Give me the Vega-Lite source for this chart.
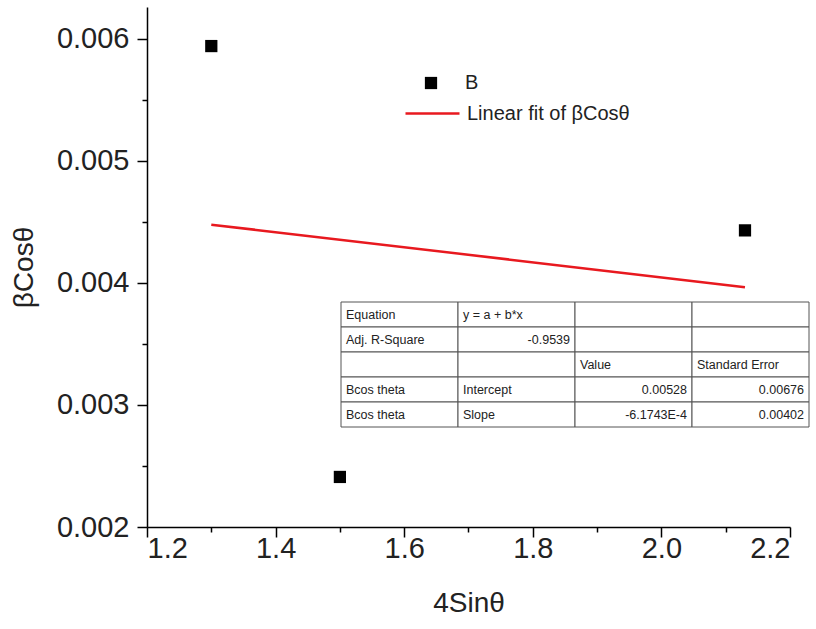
{
  "$schema": "https://vega.github.io/schema/vega-lite/v6.json",
  "width": 643,
  "height": 520,
  "autosize": "none",
  "padding": {"left": 147, "top": 7, "right": 26, "bottom": 102},
  "background": "white",
  "config": {"font": "Liberation Sans", "view": {"stroke": null}},
  "datasets": {
    "points": [
      {"x": 1.3, "y": 0.00594, "set": "B"},
      {"x": 1.5, "y": 0.00241, "set": "B"},
      {"x": 2.13, "y": 0.00443, "set": "B"}
    ],
    "fit": [
      {"x": 1.3, "y": 0.004477, "fit": "Linear fit of βCosθ"},
      {"x": 2.13, "y": 0.003965, "fit": "Linear fit of βCosθ"}
    ],
    "table": [
      {"row": 0, "col": 0, "text": "Equation"},
      {"row": 0, "col": 1, "text": "y = a + b*x"},
      {"row": 0, "col": 2, "text": ""},
      {"row": 0, "col": 3, "text": ""},
      {"row": 1, "col": 0, "text": "Adj. R-Square"},
      {"row": 1, "col": 1, "text": "-0.9539"},
      {"row": 1, "col": 2, "text": ""},
      {"row": 1, "col": 3, "text": ""},
      {"row": 2, "col": 0, "text": ""},
      {"row": 2, "col": 1, "text": ""},
      {"row": 2, "col": 2, "text": "Value"},
      {"row": 2, "col": 3, "text": "Standard Error"},
      {"row": 3, "col": 0, "text": "Bcos theta"},
      {"row": 3, "col": 1, "text": "Intercept"},
      {"row": 3, "col": 2, "text": "0.00528"},
      {"row": 3, "col": 3, "text": "0.00676"},
      {"row": 4, "col": 0, "text": "Bcos theta"},
      {"row": 4, "col": 1, "text": "Slope"},
      {"row": 4, "col": 2, "text": "-6.1743E-4"},
      {"row": 4, "col": 3, "text": "0.00402"}
    ]
  },
  "layer": [
    {
      "encoding": {
        "x": {
          "field": "x", "type": "quantitative",
          "scale": {"domain": [1.2, 2.2], "nice": false, "zero": false},
          "axis": {
            "title": "4Sinθ",
            "values": [1.2, 1.3, 1.4, 1.5, 1.6, 1.7, 1.8, 1.9, 2.0, 2.1, 2.2],
            "labelExpr": "abs(datum.value*5 - round(datum.value*5)) < 1e-6 ? format(datum.value, '.1f') : ''",
            "tickSize": {"condition": {"test": "abs(datum.value*5 - round(datum.value*5)) < 1e-6", "value": 10}, "value": 5},
            "grid": false,
            "domainColor": "black", "domainWidth": 1.5,
            "tickColor": "black", "tickWidth": 1.5,
            "labelFontSize": 29, "labelColor": "#222", "labelPadding": -3,
            "titleFontSize": 28, "titleFontWeight": "normal", "titleColor": "#222",
            "titlePadding": 26, "labelOverlap": false
          }
        },
        "y": {
          "field": "y", "type": "quantitative",
          "scale": {"domain": [0.002, 0.00626], "nice": false, "zero": false},
          "axis": {
            "title": "βCosθ",
            "values": [0.002, 0.0025, 0.003, 0.0035, 0.004, 0.0045, 0.005, 0.0055, 0.006],
            "labelExpr": "abs(datum.value*1000 - round(datum.value*1000)) < 1e-6 ? format(datum.value, '.3f') : ''",
            "tickSize": {"condition": {"test": "abs(datum.value*1000 - round(datum.value*1000)) < 1e-6", "value": 10}, "value": 5},
            "grid": false,
            "domainColor": "black", "domainWidth": 1.5,
            "tickColor": "black", "tickWidth": 1.5,
            "labelFontSize": 29, "labelColor": "#222", "labelPadding": 8,
            "titleFontSize": 28, "titleFontWeight": "normal", "titleColor": "#222",
            "titlePadding": 18, "labelOverlap": false
          }
        }
      },
      "layer": [
        {
          "data": {"name": "points"},
          "mark": {"type": "point", "filled": true, "size": 150, "opacity": 1, "color": "black"},
          "encoding": {
            "shape": {
              "field": "set", "type": "nominal",
              "scale": {"range": ["square"]},
              "legend": {
                "title": null, "orient": "none", "legendX": 274, "legendY": 66,
                "labelFontSize": 20, "labelColor": "#222", "labelOffset": 24, "labelLimit": 400,
                "symbolSize": 150, "symbolFillColor": "black", "symbolStrokeColor": "black", "padding": 0
              }
            }
          }
        },
        {
          "data": {"name": "fit"},
          "mark": {"type": "line", "strokeWidth": 2.5},
          "encoding": {
            "color": {
              "field": "fit", "type": "nominal",
              "scale": {"range": ["#e8191f"]},
              "legend": {
                "title": null, "orient": "none", "legendX": 257, "legendY": 78,
                "labelFontSize": 20, "labelColor": "#222", "labelOffset": 6, "labelLimit": 400,
                "symbolType": "stroke", "symbolSize": 2916, "symbolStrokeWidth": 2.5, "padding": 0
              }
            }
          }
        }
      ]
    },
    {
      "data": {"name": "table"},
      "encoding": {
        "x": {"field": "col", "type": "ordinal", "scale": {"range": [194, 662], "paddingInner": 0, "paddingOuter": 0}, "axis": null},
        "y": {"field": "row", "type": "ordinal", "scale": {"range": [295, 420], "paddingInner": 0, "paddingOuter": 0}, "axis": null}
      },
      "layer": [
        {
          "mark": {"type": "rect", "fill": "white", "stroke": "#555", "strokeWidth": 1}
        },
        {
          "transform": [{"filter": "datum.text != '' && !isFinite(toNumber(datum.text))"}],
          "mark": {"type": "text", "align": "left", "baseline": "middle", "dx": 5, "fontSize": 12.5, "color": "#222"},
          "encoding": {
            "x": {"field": "col", "type": "ordinal", "bandPosition": 0},
            "text": {"field": "text"}
          }
        },
        {
          "transform": [{"filter": "datum.text != '' && isFinite(toNumber(datum.text))"}],
          "mark": {"type": "text", "align": "right", "baseline": "middle", "dx": -5, "fontSize": 12.5, "color": "#222"},
          "encoding": {
            "x": {"field": "col", "type": "ordinal", "bandPosition": 1},
            "text": {"field": "text"}
          }
        }
      ]
    }
  ],
  "resolve": {"scale": {"x": "independent", "y": "independent"}}
}
